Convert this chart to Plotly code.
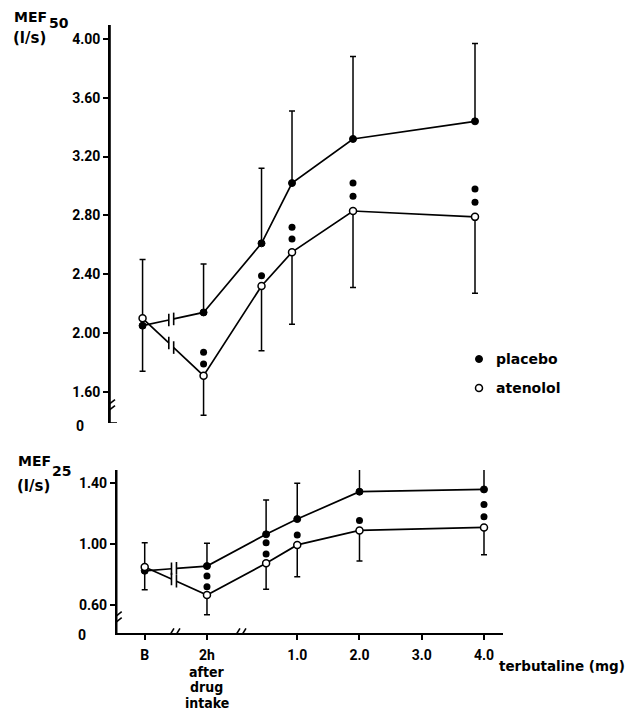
import plotly.graph_objects as go

# ---------------- data ----------------
x_labels = ["B", "2h", "0.5", "1.0", "2.0", "4.0"]

mef50_placebo = [2.05, 2.14, 2.61, 3.02, 3.32, 3.44]
mef50_placebo_sd = [0.45, 0.33, 0.51, 0.49, 0.56, 0.53]
mef50_atenolol = [2.10, 1.71, 2.32, 2.55, 2.83, 2.79]
mef50_atenolol_sd = [0.36, 0.27, 0.44, 0.49, 0.52, 0.52]
mef50_sig_x = ["2h", "2h", "0.5", "1.0", "1.0", "2.0", "2.0", "4.0", "4.0"]
mef50_sig_y = [1.87, 1.79, 2.39, 2.72, 2.64, 3.02, 2.93, 2.98, 2.89]

mef25_placebo = [0.825, 0.856, 1.065, 1.165, 1.345, 1.36]
mef25_placebo_sd = [0.185, 0.15, 0.225, 0.235, 0.23, 0.215]
mef25_atenolol = [0.85, 0.666, 0.874, 0.995, 1.09, 1.11]
mef25_atenolol_sd = [0.15, 0.13, 0.17, 0.21, 0.20, 0.18]
mef25_sig_x = ["2h", "2h", "0.5", "0.5", "1.0", "2.0", "4.0", "4.0"]
mef25_sig_y = [0.79, 0.72, 1.01, 0.935, 1.06, 1.155, 1.26, 1.18]

mef50_ticks = [1.60, 2.00, 2.40, 2.80, 3.20, 3.60, 4.00]
mef25_ticks = [0.60, 1.00, 1.40]
dose_ticks = ["B", "2h", "1.0", "2.0", "3.0", "4.0"]

# ---------------- layout helpers ----------------
OFF = 8                      # page body margin of the browser
W, H = 636 - OFF, 718 - OFF
NUM_FONT = "Roboto, 'DejaVu Sans', sans-serif"
WORD_FONT = "'DejaVu Sans', Roboto, sans-serif"
NARROW_FONT = "'Liberation Sans Narrow', 'DejaVu Sans Condensed', Roboto, sans-serif"
POS = {"B": -1.45, "2h": -0.45}


def xp(label):
    return POS[label] if label in POS else float(label)


BREAK_X = (-1.02, -0.94)   # gap in the lines between B and 2h


def px(x):
    return (x - OFF) / W


def py(y):
    return 1 - (y - OFF) / H


fig = go.Figure()


def add_panel(xa, ya, plac, plac_sd, aten, aten_sd, sig_x, sig_y):
    xs = [xp(l) for l in x_labels]

    def broken(vals):
        xB, x2 = xs[0], xs[1]
        yB, y2 = vals[0], vals[1]

        def interp(x):
            return yB + (y2 - yB) * (x - xB) / (x2 - xB)
        lx = [xB, BREAK_X[0], None, BREAK_X[1]] + xs[1:]
        ly = [yB, interp(BREAK_X[0]), None, interp(BREAK_X[1])] + vals[1:]
        bx = [BREAK_X[0], BREAK_X[1]]
        by = [interp(BREAK_X[0]), interp(BREAK_X[1])]
        return lx, ly, bx, by

    for vals in (plac, aten):
        lx, ly, bx, by = broken(vals)
        fig.add_trace(go.Scatter(x=lx, y=ly, mode="lines", xaxis=xa, yaxis=ya,
                                 line=dict(color="black", width=1.7),
                                 connectgaps=False, showlegend=False, hoverinfo="skip"))
        fig.add_trace(go.Scatter(x=bx, y=by, mode="markers", xaxis=xa, yaxis=ya,
                                 marker=dict(symbol="line-ns-open", size=9, color="black",
                                             line=dict(color="black", width=1.6)),
                                 showlegend=False, hoverinfo="skip"))

    fig.add_trace(go.Scatter(
        x=xs, y=plac, mode="markers", xaxis=xa, yaxis=ya, name="placebo",
        marker=dict(symbol="circle", size=7, color="black",
                    line=dict(color="black", width=1)),
        error_y=dict(type="data", symmetric=False, array=plac_sd,
                     arrayminus=[0] * len(plac_sd), color="black",
                     thickness=1.5, width=3),
        showlegend=False))
    fig.add_trace(go.Scatter(
        x=xs, y=aten, mode="markers", xaxis=xa, yaxis=ya, name="atenolol",
        marker=dict(symbol="circle", size=7, color="white",
                    line=dict(color="black", width=1.5)),
        error_y=dict(type="data", symmetric=False, array=[0] * len(aten_sd),
                     arrayminus=aten_sd, color="black", thickness=1.5, width=3),
        showlegend=False))
    fig.add_trace(go.Scatter(
        x=[xp(l) for l in sig_x], y=sig_y, mode="markers", xaxis=xa, yaxis=ya,
        marker=dict(symbol="circle", size=7, color="black"),
        showlegend=False, hoverinfo="skip"))


add_panel("x2", "y2", mef50_placebo, mef50_placebo_sd, mef50_atenolol,
          mef50_atenolol_sd, mef50_sig_x, mef50_sig_y)
add_panel("x", "y", mef25_placebo, mef25_placebo_sd, mef25_atenolol,
          mef25_atenolol_sd, mef25_sig_x, mef25_sig_y)

axis_common = dict(showgrid=False, zeroline=False, showline=True,
                   linecolor="black", linewidth=1.6, ticks="outside",
                   ticklen=5, tickwidth=1.5, tickcolor="black", automargin=False,
                   tickfont=dict(family=NUM_FONT, size=14, color="black", weight="bold"))

XR_BOT = [-1.90, 4.31]
XR_TOP = [-1.984, 4.8]
YR_BOT = [0.414, 1.4875]
YR_TOP = [1.388, 4.095]

fig.update_layout(
    width=W, height=H,
    margin=dict(l=0, r=0, t=0, b=0),
    paper_bgcolor="white", plot_bgcolor="rgba(0,0,0,0)",
    font=dict(family=NUM_FONT, size=14, color="black", weight="bold"),
    xaxis=dict(domain=[px(116.7), px(503.3)], range=XR_BOT, anchor="y",
               tickvals=[xp(l) for l in dose_ticks], ticktext=dose_ticks,
               ticklabelstandoff=3, **axis_common),
    yaxis=dict(domain=[py(633.3), py(470)], range=YR_BOT, anchor="x",
               tickvals=mef25_ticks, ticktext=["%.2f" % v for v in mef25_ticks],
               **axis_common),
    xaxis2=dict(domain=[px(110), px(523.8)], range=XR_TOP, anchor="y2",
                visible=False),
    yaxis2=dict(domain=[py(423), py(25)], range=YR_TOP, anchor="x2",
                tickvals=mef50_ticks, ticktext=["%.2f" % v for v in mef50_ticks],
                **axis_common),
    showlegend=False,
)

# ---------------- axis lines & axis-break marks ----------------
shapes = []
ln = dict(color="black", width=1.6)

# explicit vertical axis lines
shapes.append(dict(type="line", xref="x2 domain", yref="y2 domain",
                   x0=0, x1=0, y0=0, y1=1, line=ln))
shapes.append(dict(type="line", xref="x domain", yref="y domain",
                   x0=0, x1=0, y0=0, y1=1, line=ln))


def yslashes(xref, yref, xanchor, yanchor):
    for dy in (-3, 3):
        shapes.append(dict(type="line", xref=xref, yref=yref,
                           xsizemode="pixel", ysizemode="pixel",
                           xanchor=xanchor, yanchor=yanchor,
                           x0=-5, x1=5, y0=dy - 4, y1=dy + 4, line=ln))


def xslashes(xref, yref, xanchor, yanchor):
    for dx in (-3, 3):
        shapes.append(dict(type="line", xref=xref, yref=yref,
                           xsizemode="pixel", ysizemode="pixel",
                           xanchor=xanchor, yanchor=yanchor,
                           x0=dx - 3, x1=dx + 3, y0=-5, y1=5, line=ln))


yslashes("x2", "y2", XR_TOP[0], 1.50)
yslashes("x", "y", XR_BOT[0], 0.51)
xslashes("x", "y", -0.98, YR_BOT[0])
xslashes("x", "y", 0.08, YR_BOT[0])
# little foot at the bottom of the upper axis
shapes.append(dict(type="line", xref="x2", yref="y2", xsizemode="pixel",
                   ysizemode="pixel", xanchor=XR_TOP[0], yanchor=YR_TOP[0],
                   x0=0, x1=7, y0=0, y1=0, line=ln))

# legend symbols
shapes.append(dict(type="circle", xref="paper", yref="paper", xsizemode="pixel",
                   ysizemode="pixel", xanchor=px(479), yanchor=py(359),
                   x0=-3.5, x1=3.5, y0=-3.5, y1=3.5,
                   fillcolor="black", line=dict(color="black", width=1)))
shapes.append(dict(type="circle", xref="paper", yref="paper", xsizemode="pixel",
                   ysizemode="pixel", xanchor=px(479), yanchor=py(388),
                   x0=-3.5, x1=3.5, y0=-3.5, y1=3.5,
                   fillcolor="white", line=dict(color="black", width=1.5)))
fig.update_layout(shapes=shapes)

# ---------------- texts ----------------
ann = []


def text(t, x, y, xanchor="left", xref="paper", size=14, family=WORD_FONT):
    ann.append(dict(text=t, x=x, y=y, xref=xref, yref="paper", xanchor=xanchor,
                    yanchor="middle", showarrow=False,
                    font=dict(family=family, size=size, color="black", weight="bold")))


text("MEF", px(12), py(17))
text("50", px(47), py(23))
text("(l/s)", px(11), py(38), size=15)
text("MEF", px(16), py(461))
text("25", px(50), py(471))
text("(l/s)", px(15), py(486), size=15)
text("0", px(86), py(426), xanchor="right", family=NUM_FONT)
text("0", px(88), py(635), xanchor="right", family=NUM_FONT)
text("after", xp("2h"), py(672), xanchor="center", xref="x", family=NARROW_FONT)
text("drug", xp("2h"), py(687), xanchor="center", xref="x", family=NARROW_FONT)
text("intake", xp("2h"), py(703), xanchor="center", xref="x", family=NARROW_FONT)
text("terbutaline (mg)", px(497), py(666), size=13.5)
text("placebo", px(494), py(359))
text("atenolol", px(494), py(388))
fig.update_layout(annotations=ann)

fig.write_html("out.html")
